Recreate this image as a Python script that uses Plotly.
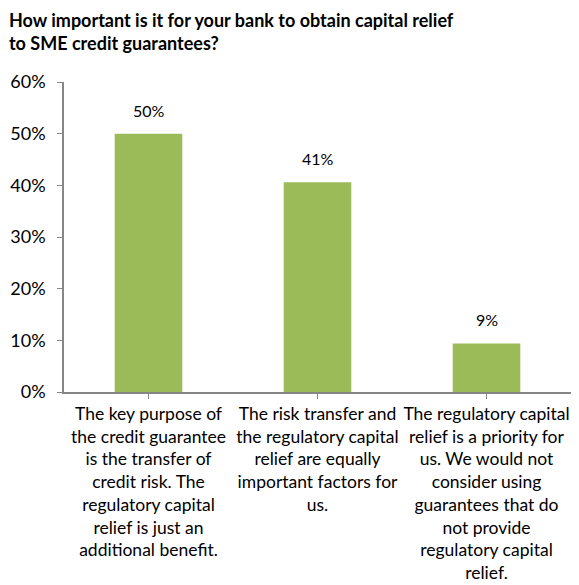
import plotly.graph_objects as go

categories = [
    'The key purpose of<br>the credit guarantee<br>is the transfer of<br>credit risk. The<br>regulatory capital<br>relief is just an<br>additional benefit.',
    'The risk transfer and<br>the regulatory capital<br>relief are equally<br>important factors for<br>us.',
    'The regulatory capital<br>relief is a priority for<br>us. We would not<br>consider using<br>guarantees that do<br>not provide<br>regulatory capital<br>relief.',
]
shares = [0.50, 0.406, 0.094]
share_labels = ['50%', '41%', '9%']
y_ticks = [0, 0.1, 0.2, 0.3, 0.4, 0.5, 0.6]
title_text = '<b>How important is it for your bank to obtain capital relief<br>to SME credit guarantees?</b>'

font_family = 'Lato, Open Sans, sans-serif'
axis_grey = '#868686'

fig = go.Figure()
fig.add_trace(go.Bar(
    x=list(range(len(categories))),
    y=shares,
    marker=dict(color='#9BBB59', line=dict(width=0)),
    width=0.4,
    hoverinfo='skip',
))

for i, (v, lbl) in enumerate(zip(shares, share_labels)):
    fig.add_annotation(
        x=i, y=v, text=lbl, showarrow=False,
        yanchor='bottom', yshift=12,
        font=dict(family=font_family, size=16, color='#000000'),
    )

# title drawn as annotation so both lines stay inside the page
fig.add_annotation(
    xref='paper', yref='paper', x=-0.1105, y=1.2387,
    xanchor='left', yanchor='top', align='left',
    text=title_text, showarrow=False, borderpad=0,
    font=dict(family=font_family, size=18, color='#000000'),
)

# page body has an 8px margin, so the figure is 8px smaller each way
fig.update_layout(
    width=571, height=577,
    margin=dict(l=56, r=8, t=74, b=193),
    plot_bgcolor='white', paper_bgcolor='white',
    showlegend=False,
    font=dict(family=font_family, color='#000000'),
    bargap=0.6,
)
fig.update_xaxes(
    tickmode='array',
    tickvals=list(range(len(categories))),
    ticktext=categories,
    range=[-0.5, 2.5],
    showline=True, linecolor=axis_grey, linewidth=1.5,
    ticks='outside', tickson='boundaries', ticklen=5, tickcolor=axis_grey,
    tickfont=dict(family=font_family, size=17.5, color='#000000'),
    showgrid=False, zeroline=False,
    tickangle=0, automargin=False,
)
fig.update_yaxes(
    range=[0, 0.6],
    tickvals=y_ticks,
    tickformat='.0%',
    showline=True, linecolor=axis_grey, linewidth=1.5,
    ticks='outside', ticklen=5, tickcolor=axis_grey,
    tickfont=dict(family=font_family, size=18, color='#000000'),
    ticklabelstandoff=8,
    showgrid=False, zeroline=False, automargin=False,
)

fig.write_html('out.html')
